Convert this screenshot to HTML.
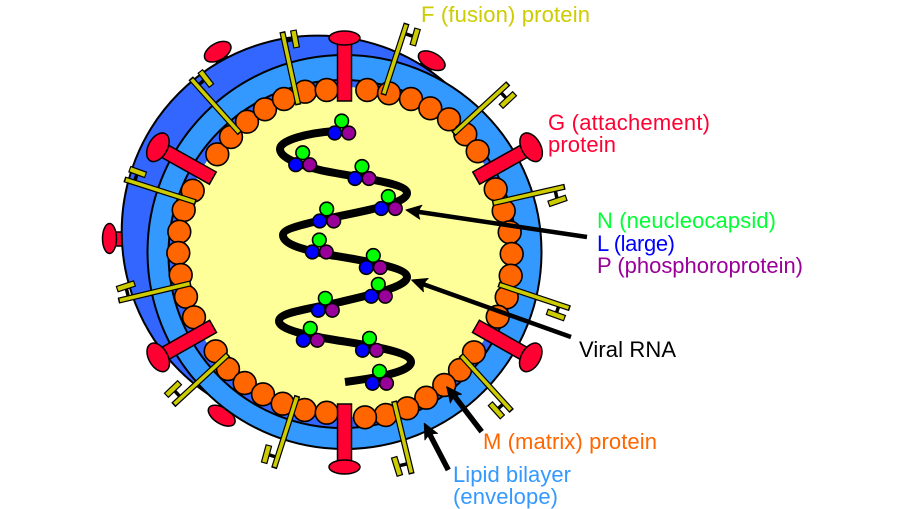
<!DOCTYPE html>
<html><head><meta charset="utf-8"><style>
html,body{margin:0;padding:0;background:#fff}
svg{display:block}
text{font-family:"Liberation Sans",sans-serif;font-size:22px}
.c{stroke:#000;stroke-width:2}
.sb{stroke:#000;stroke-width:6}
.sy{stroke:#cc0;stroke-width:3.6;stroke-dasharray:0 2 96 2}
.xb{stroke:#000;stroke-width:6.8}
.xy{stroke:#cc0;stroke-width:4.4;stroke-dasharray:0 6 88 6}
.k{stroke:#000;stroke-width:3.5}
.o{fill:#f60;stroke:#000;stroke-width:1.6}
.a{stroke:#000;fill:none}
</style></head><body>
<svg width="907" height="509" viewBox="0 0 907 509" xmlns="http://www.w3.org/2000/svg">
<defs>
<g id="T"><circle cx="0" cy="0" r="6.8" fill="#0f0" stroke="#000" stroke-width="1.6"/><circle cx="-7" cy="12" r="6.8" fill="#00f" stroke="#000" stroke-width="1.6"/><circle cx="7" cy="12" r="6.8" fill="#909" stroke="#000" stroke-width="1.6"/></g>
<g id="G"><rect x="-7" y="-214" width="14" height="63" fill="#f03" stroke="#000" stroke-width="1.5"/><ellipse cx="0" cy="-214" rx="15.5" ry="7" fill="#f03" stroke="#000" stroke-width="1.5"/></g>
<g id="G2"><rect x="-7" y="-214" width="14" height="63" fill="#f03" stroke="#000" stroke-width="1.5"/><ellipse cx="0" cy="-214" rx="15.5" ry="9.5" fill="#f03" stroke="#000" stroke-width="1.5"/></g>
<path id="H" d="M0,0 L-15,-7 Q-10.5,0 -15,7 Z" fill="#000" stroke="#000" stroke-linejoin="round"/>
</defs>

<!-- small outer mushrooms -->
<g fill="#f03" stroke="#000" stroke-width="1.5">
<rect x="114" y="232" width="12" height="14"/>
<ellipse cx="109.5" cy="238.5" rx="7" ry="15"/>
<rect x="-6" y="0" width="12" height="12" transform="translate(219,54) rotate(-28)"/>
<ellipse cx="217.7" cy="51.7" rx="14.5" ry="8.5" transform="rotate(-30 217.7 51.7)"/>
<rect x="-6" y="0" width="12" height="12" transform="translate(428,63) rotate(28)"/>
<ellipse cx="431.7" cy="60.7" rx="14.5" ry="8" transform="rotate(28 431.7 60.7)"/>
<rect x="-6" y="-12" width="12" height="12" transform="translate(224,412) rotate(30)"/>
<ellipse cx="221.7" cy="415.7" rx="15" ry="8" transform="rotate(32 221.7 415.7)"/>
</g>

<circle cx="317.7" cy="231.6" r="196" fill="#36f" class="c"/>
<circle cx="344.5" cy="252" r="197" fill="#39f" class="c"/>
<circle cx="342.5" cy="254" r="174" fill="#36f" class="c"/>
<circle cx="344.5" cy="252" r="165" fill="#ff9"/>

<!-- matrix -->
<g class="o">
<circle cx="217.3" cy="154.3" r="11.4"/><circle cx="231" cy="137" r="11.4"/><circle cx="247" cy="121.7" r="11.4"/><circle cx="265" cy="109.3" r="11.4"/><circle cx="284" cy="99" r="11.4"/><circle cx="305" cy="91.7" r="11.4"/><circle cx="326.7" cy="90" r="11.4"/>
<circle cx="192.7" cy="190.7" r="11.4"/><circle cx="183.7" cy="210" r="11.4"/><circle cx="179.3" cy="231.7" r="11.4"/><circle cx="178.3" cy="253" r="11.4"/><circle cx="180.7" cy="275" r="11.4"/><circle cx="186" cy="296.7" r="11.4"/><circle cx="194" cy="317.3" r="11.4"/>
<circle cx="215.7" cy="351.3" r="11.4"/><circle cx="228" cy="369" r="11.4"/><circle cx="244.7" cy="383" r="11.4"/><circle cx="263" cy="394.3" r="11.4"/><circle cx="282.7" cy="403.7" r="11.4"/><circle cx="304.7" cy="410" r="11.4"/><circle cx="326.7" cy="412.7" r="11.4"/>
<circle cx="367.3" cy="90" r="11.4"/><circle cx="389" cy="93.3" r="11.4"/><circle cx="411" cy="99" r="11.4"/><circle cx="430.3" cy="108.3" r="11.4"/><circle cx="449" cy="119.3" r="11.4"/><circle cx="465.3" cy="134.3" r="11.4"/><circle cx="477.7" cy="151.3" r="11.4"/>
<circle cx="495.7" cy="189.3" r="11.4"/><circle cx="503.7" cy="211" r="11.4"/><circle cx="509.7" cy="232.3" r="11.4"/><circle cx="511.7" cy="254" r="11.4"/><circle cx="510.7" cy="275.7" r="11.4"/><circle cx="506.7" cy="297.3" r="11.4"/><circle cx="497.7" cy="316.7" r="11.4"/>
<circle cx="474" cy="352.3" r="11.4"/><circle cx="460" cy="370" r="11.4"/><circle cx="444.3" cy="385" r="11.4"/><circle cx="426.3" cy="397.7" r="11.4"/><circle cx="407.3" cy="408.3" r="11.4"/><circle cx="385.7" cy="415" r="11.4"/><circle cx="365" cy="417.3" r="11.4"/>
</g>

<!-- RNA -->
<path d="M335,131 C308,133 280,140 280,149 C280,158 300,165 320,170 C345,176 407,182 407,193 C407,203 370,210 335,217 C310,223 283,228 283,235 C283,245 305,250 330,255 C360,260 407,267 407,277 C407,287 370,295 340,302 C310,309 279,312 279,321 C279,330 310,336 335,340 C365,345 411,351 411,362 C411,372 375,378 345,382" fill="none" stroke="#000" stroke-width="8"/>
<use href="#T" x="341.7" y="121"/><use href="#T" x="302.7" y="152.7"/><use href="#T" x="362" y="166.5"/><use href="#T" x="388.3" y="196.5"/><use href="#T" x="326.7" y="209"/><use href="#T" x="319.3" y="240"/><use href="#T" x="373.3" y="255.5"/><use href="#T" x="378.3" y="284.3"/><use href="#T" x="325.3" y="298.3"/><use href="#T" x="310.3" y="328.3"/><use href="#T" x="369.5" y="338.3"/><use href="#T" x="379.5" y="371.3"/>

<!-- G proteins -->
<use href="#G" transform="translate(344.5,252)"/>
<use href="#G" transform="translate(344.5,253) rotate(180)"/>
<use href="#G2" transform="translate(344.5,252) rotate(-60.7)"/>
<use href="#G2" transform="translate(344.5,252) rotate(60.7)"/>
<use href="#G2" transform="translate(344.5,252) rotate(-119.5)"/>
<use href="#G2" transform="translate(344.5,252) rotate(119.5)"/>

<!-- F proteins -->
<g fill="none">
<line class="k" x1="295" y1="39" x2="284.4" y2="41.3"/><line class="xb" x1="296.7" y1="48" x2="293.3" y2="30"/><line class="xy" pathLength="100" x1="296.7" y1="48" x2="293.3" y2="30"/><line class="sb" x1="298.3" y1="105" x2="282.3" y2="31.7"/><line class="sy" pathLength="100" x1="298.3" y1="105" x2="282.3" y2="31.7"/>
<line class="k" x1="205.8" y1="78.5" x2="197.5" y2="85.9"/><line class="xb" x1="211.7" y1="86" x2="200" y2="71"/><line class="xy" pathLength="100" x1="211.7" y1="86" x2="200" y2="71"/><line class="sb" x1="240" y1="133.3" x2="190.7" y2="78.3"/><line class="sy" pathLength="100" x1="240" y1="133.3" x2="190.7" y2="78.3"/>
<line class="k" x1="137.6" y1="172" x2="134.3" y2="182.5"/><line class="xb" x1="146" y1="175" x2="129.3" y2="169"/><line class="xy" pathLength="100" x1="146" y1="175" x2="129.3" y2="169"/><line class="sb" x1="196" y1="202.3" x2="124.3" y2="179.3"/><line class="sy" pathLength="100" x1="196" y1="202.3" x2="124.3" y2="179.3"/>
<line class="k" x1="415.2" y1="37" x2="403.5" y2="33.2"/><line class="xb" x1="412.7" y1="45.7" x2="417.7" y2="28.3"/><line class="xy" pathLength="100" x1="412.7" y1="45.7" x2="417.7" y2="28.3"/><line class="sb" x1="383.3" y1="95" x2="406.7" y2="23.3"/><line class="sy" pathLength="100" x1="383.3" y1="95" x2="406.7" y2="23.3"/>
<line class="k" x1="507.8" y1="100" x2="499.7" y2="91.2"/><line class="xb" x1="500.7" y1="106.7" x2="515" y2="93.3"/><line class="xy" pathLength="100" x1="500.7" y1="106.7" x2="515" y2="93.3"/><line class="sb" x1="453.3" y1="134" x2="508.3" y2="83.3"/><line class="sy" pathLength="100" x1="453.3" y1="134" x2="508.3" y2="83.3"/>
<line class="k" x1="557.5" y1="200.8" x2="554.9" y2="189"/><line class="xb" x1="548.3" y1="204" x2="566.7" y2="197.7"/><line class="xy" pathLength="100" x1="548.3" y1="204" x2="566.7" y2="197.7"/><line class="sb" x1="492.3" y1="203.3" x2="565" y2="186.7"/><line class="sy" pathLength="100" x1="492.3" y1="203.3" x2="565" y2="186.7"/>
<line class="k" x1="555.8" y1="315" x2="559.2" y2="304.7"/><line class="xb" x1="546.7" y1="311.7" x2="565" y2="318.3"/><line class="xy" pathLength="100" x1="546.7" y1="311.7" x2="565" y2="318.3"/><line class="sb" x1="498.3" y1="284.3" x2="570" y2="308.3"/><line class="sy" pathLength="100" x1="498.3" y1="284.3" x2="570" y2="308.3"/>
<line class="k" x1="496.3" y1="410.3" x2="504.4" y2="402.9"/><line class="xb" x1="490" y1="403.3" x2="502.7" y2="417.3"/><line class="xy" pathLength="100" x1="490" y1="403.3" x2="502.7" y2="417.3"/><line class="sb" x1="460.7" y1="355" x2="511.7" y2="411"/><line class="sy" pathLength="100" x1="460.7" y1="355" x2="511.7" y2="411"/>
<line class="k" x1="397" y1="466.3" x2="409.1" y2="463.3"/><line class="xb" x1="394" y1="456.7" x2="400" y2="476"/><line class="xy" pathLength="100" x1="394" y1="456.7" x2="400" y2="476"/><line class="sb" x1="394" y1="401" x2="411.7" y2="474"/><line class="sy" pathLength="100" x1="394" y1="401" x2="411.7" y2="474"/>
<line class="k" x1="266.5" y1="454" x2="277.5" y2="457.5"/><line class="xb" x1="269" y1="445" x2="264" y2="463.3"/><line class="xy" pathLength="100" x1="269" y1="445" x2="264" y2="463.3"/><line class="sb" x1="297.3" y1="395.7" x2="274" y2="468.3"/><line class="sy" pathLength="100" x1="297.3" y1="395.7" x2="274" y2="468.3"/>
<line class="k" x1="173" y1="389" x2="181.1" y2="397.8"/><line class="xb" x1="180" y1="382.3" x2="166" y2="395.7"/><line class="xy" pathLength="100" x1="180" y1="382.3" x2="166" y2="395.7"/><line class="sb" x1="228.3" y1="354.3" x2="173.3" y2="405"/><line class="sy" pathLength="100" x1="228.3" y1="354.3" x2="173.3" y2="405"/>
<line class="k" x1="125.8" y1="286.3" x2="128.7" y2="298.2"/><line class="xb" x1="135" y1="283.3" x2="116.7" y2="289.3"/><line class="xy" pathLength="100" x1="135" y1="283.3" x2="116.7" y2="289.3"/><line class="sb" x1="191" y1="283.3" x2="118.3" y2="300.7"/><line class="sy" pathLength="100" x1="191" y1="283.3" x2="118.3" y2="300.7"/>
</g>

<!-- arrows -->
<line class="a" stroke-width="4.5" x1="587" y1="237" x2="416" y2="211.5"/><use href="#H" transform="translate(406,210) rotate(188.5)"/>
<line class="a" stroke-width="4.5" x1="571" y1="337" x2="420" y2="283"/><use href="#H" transform="translate(411.7,280) rotate(199.7)"/>
<line class="a" stroke-width="5.5" x1="481.7" y1="431.7" x2="452" y2="393"/><use href="#H" transform="translate(446.7,386.7) rotate(232)"/>
<line class="a" stroke-width="5.5" x1="448.3" y1="470" x2="428" y2="431"/><use href="#H" transform="translate(424.3,423.3) rotate(242.8)"/>

<!-- labels -->
<text x="421" y="22" fill="#cc0" textLength="169">F (fusion) protein</text>
<text x="548" y="130" fill="#f03" textLength="162">G (attachement)</text>
<text x="548" y="152" fill="#f03" textLength="68">protein</text>
<text x="597" y="228" fill="#0f3" textLength="179">N (neucleocapsid)</text>
<text x="597" y="251" fill="#00f" textLength="78">L (large)</text>
<text x="597" y="273" fill="#909" textLength="206">P (phosphoroprotein)</text>
<text x="579" y="357" fill="#000" textLength="97">Viral RNA</text>
<text x="483" y="449" fill="#f60" textLength="174">M (matrix) protein</text>
<text x="453" y="482" fill="#39f" textLength="118">Lipid bilayer</text>
<text x="453" y="504" fill="#39f" textLength="105">(envelope)</text>
</svg>
</body></html>
